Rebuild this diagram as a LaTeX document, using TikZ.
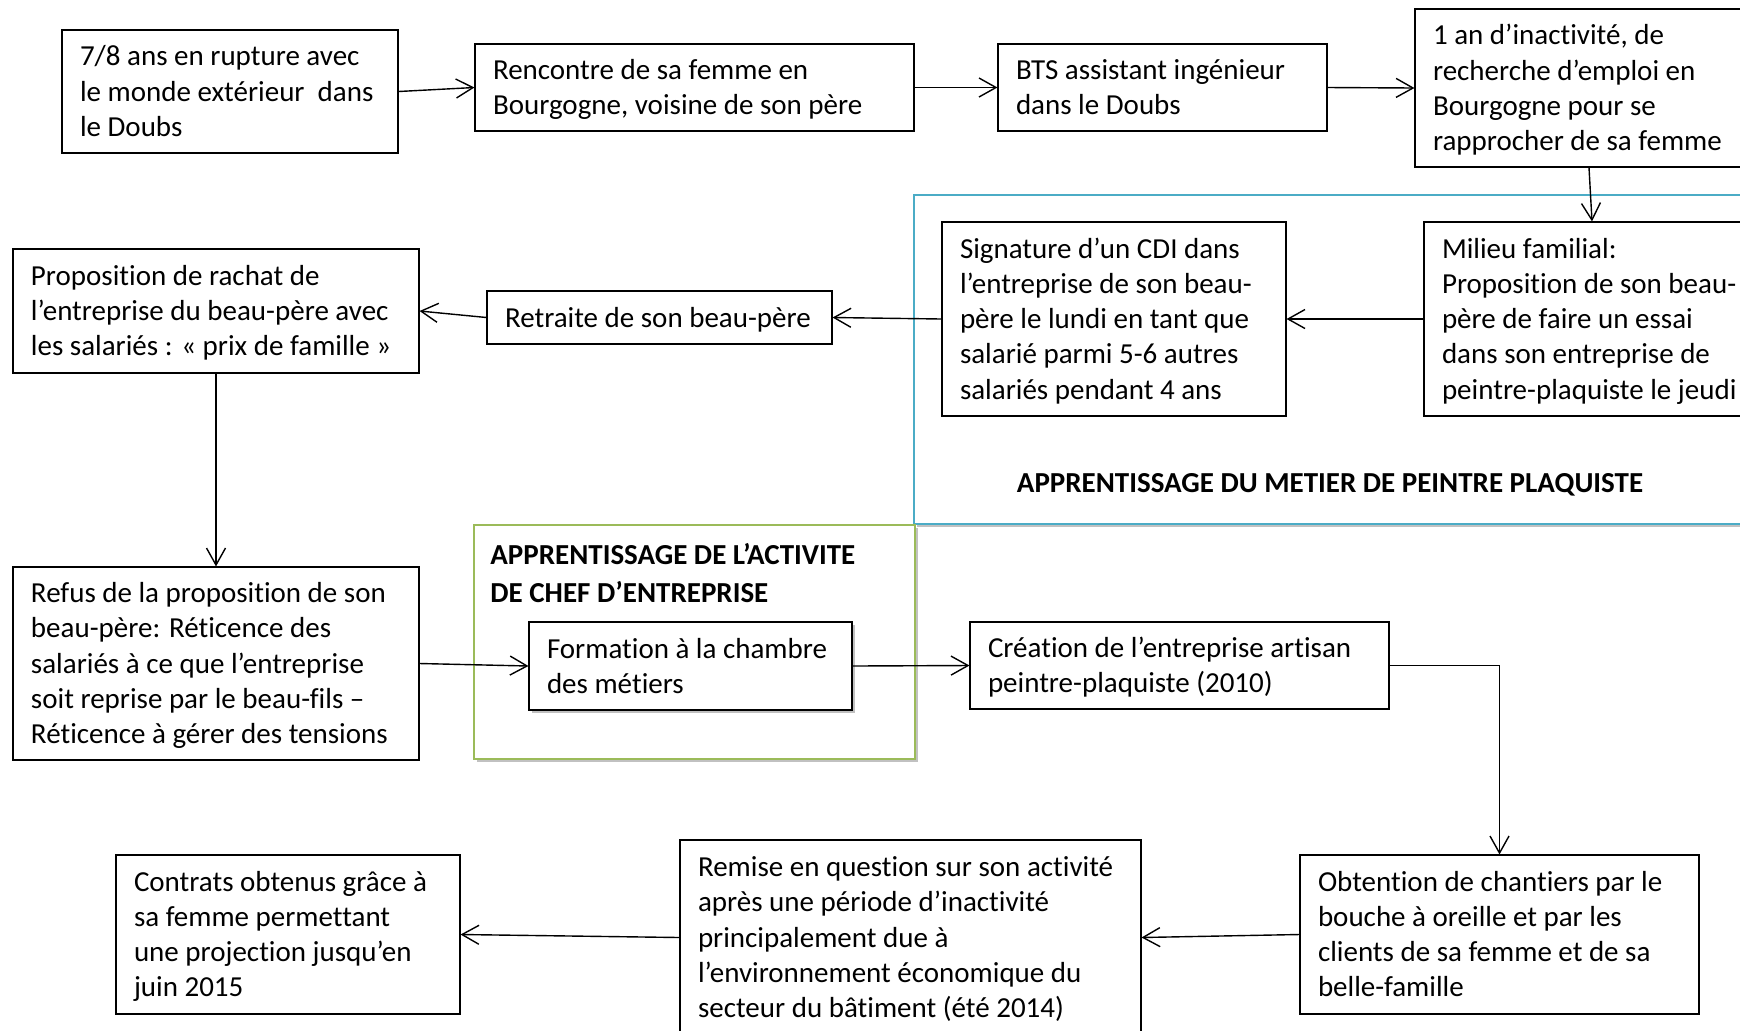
\documentclass[tikz,border=0pt]{standalone}
\usepackage{fontspec}
\setmainfont{Carlito}[Ligatures=NoCommon]
\usetikzlibrary{arrows.meta,shadows}
\definecolor{frblue}{RGB}{75,172,198}
\definecolor{frgreen}{RGB}{155,187,89}
\newcommand\bxt[2]{\makebox[#1][l]{\raisebox{-1.3pt}[\height][\depth]{\begin{tabular}{@{}l@{}}#2\end{tabular}}}}
\begin{document}
\begin{tikzpicture}[x=0.5pt,y=-0.5pt,
  txt/.style={font=\fontsize{14.5}{17.6}\selectfont},
  box/.style={txt, draw, fill=white, line width=0.55pt, inner xsep=9pt, inner ysep=0pt},
  frame/.style={fill=white, line width=1.1pt},
  shad/.style={drop shadow={shadow xshift=1.3pt,shadow yshift=-1.3pt,opacity=0.35,fill=black!70}},
  arr/.style={line width=0.7pt, -{Straight Barb[length=8.5pt,width=9.5pt]}}]
\useasboundingbox (0,0) rectangle (1740,1030);
% frames
\draw[frame, draw=frblue, shad] (914,195) rectangle (1770,524);
\draw[frame, draw=frgreen, shad] (474,525) rectangle (915,759);
% top row
\node[box, minimum height=61.5pt] (b1) at (230,91.5)
  {\bxt{150pt}{7/8 ans en rupture avec\\le monde extérieur \ dans\\le Doubs}};
\node[box, minimum height=43.5pt] (b2) at (694.5,87.5)
  {\bxt{201.5pt}{Rencontre de sa femme en\\Bourgogne, voisine de son père}};
\node[box, minimum height=43.5pt] (b3) at (1162.5,87.5)
  {\bxt{146.5pt}{BTS assistant ingénieur\\dans le Doubs}};
\node[box, minimum height=79pt] (b4) at (1582.5,88)
  {\bxt{149.5pt}{1 an d’inactivité, de\\recherche d’emploi en\\Bourgogne pour se\\rapprocher de sa femme}};
% second row
\node[box, minimum height=97pt] (sig) at (1114,319)
  {\bxt{154pt}{Signature d’un CDI dans\\l’entreprise de son beau-\\père le lundi en tant que\\salarié parmi 5-6 autres\\salariés pendant 4 ans}};
\node[box, minimum height=97pt] (mil) at (1592,319)
  {\bxt{150pt}{Milieu familial:\\Proposition de son beau-\\père de faire un essai\\dans son entreprise de\\peintre-plaquiste le jeudi}};
\node[txt, font=\bfseries\fontsize{14.5}{17.6}\selectfont] (lblue) at (1330,485)
  {APPRENTISSAGE DU METIER DE PEINTRE PLAQUISTE};
\node[box, minimum height=62pt] (prop) at (216,311)
  {\bxt{185pt}{Proposition de rachat de\\l’entreprise du beau-père avec\\les salariés : « prix de famille »}};
\node[box, minimum height=26.5pt] (ret) at (659.5,317.5)
  {\bxt{154.5pt}{Retraite de son beau-père}};
% third row
\node[box, minimum height=96.5pt] (ref) at (216,663.5)
  {\bxt{185pt}{Refus de la proposition de son\\beau-père: Réticence des\\salariés à ce que l’entreprise\\soit reprise par le beau-fils –\\Réticence à gérer des tensions}};
\node[anchor=west, align=left, inner sep=0pt, font=\bfseries\fontsize{14.5}{19}\selectfont] (lgreen) at (490,573)
  {APPRENTISSAGE DE L’ACTIVITE\\DE CHEF D’ENTREPRISE};
\node[box, shad, minimum height=44pt] (form) at (690.5,666)
  {\bxt{143.5pt}{Formation à la chambre\\des métiers}};
\node[box, minimum height=43.5pt] (crea) at (1179.5,665.5)
  {\bxt{191.5pt}{Création de l’entreprise artisan\\peintre-plaquiste (2010)}};
% bottom row
\node[box, minimum height=79.5pt] (obt) at (1499.5,934.5)
  {\bxt{181.5pt}{Obtention de chantiers par le\\bouche à oreille et par les\\clients de sa femme et de sa\\belle-famille}};
\node[box, minimum height=97.5pt] (rem) at (910.5,937.5)
  {\bxt{212.5pt}{Remise en question sur son activité\\après une période d’inactivité\\principalement due à\\l’environnement économique du\\secteur du bâtiment (été 2014)}};
\node[box, minimum height=79.5pt] (con) at (288,934.5)
  {\bxt{154pt}{Contrats obtenus grâce à\\sa femme permettant\\une projection jusqu’en\\juin 2015}};
% connectors
\draw[arr] (b1.east) -- (b2.west);
\draw[arr] (b2.east) -- (b3.west);
\draw[arr] (b3.east) -- (b4.west);
\draw[arr] ([xshift=3.25pt]b4.south) -- (mil.north);
\draw[arr] (mil.west) -- (sig.east);
\draw[arr] (sig.west) -- (ret.east);
\draw[arr] (ret.west) -- (prop.east);
\draw[arr] (prop.south) -- (ref.north);
\draw[arr] (ref.east) -- (form.west);
\draw[arr] (form.east) -- (crea.west);
\draw[arr] (crea.east) -| (obt.north);
\draw[arr] (obt.west) -- (rem.east);
\draw[arr] (rem.west) -- (con.east);
\end{tikzpicture}
\end{document}
